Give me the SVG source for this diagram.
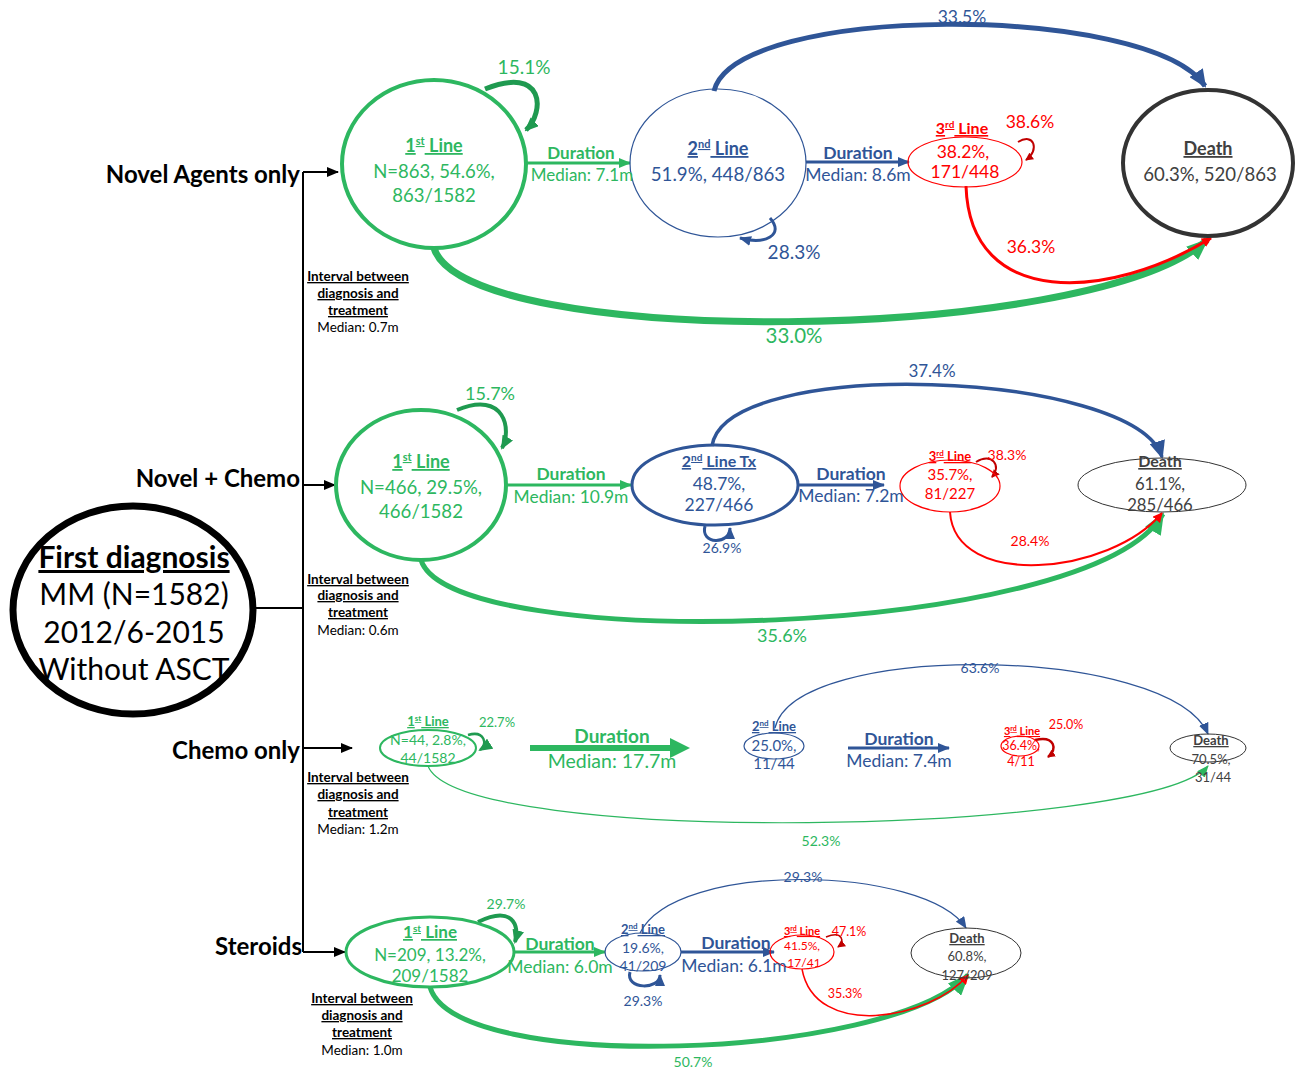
<svg xmlns="http://www.w3.org/2000/svg" width="1306" height="1071" viewBox="0 0 1306 1071">
<defs>
<style>
text{font-family:Lato,"Open Sans","Liberation Sans",sans-serif;text-anchor:middle}
.g{fill:#2db760}.b{fill:#2f5597}.r{fill:#ff0000}.k{fill:#000}.d{fill:#404040}
.bold{font-weight:bold}.u{text-decoration:underline}
.gs{stroke:#2db760;fill:none}.bs{stroke:#2f5597;fill:none}.rs{stroke:#ff0000;fill:none}.ks{stroke:#000;fill:none}
.lab{font-size:24px;font-weight:bold;text-anchor:end}
.iv{font-size:13.5px}
</style>
<marker id="ak" markerWidth="12" markerHeight="10" refX="11" refY="5" orient="auto" markerUnits="userSpaceOnUse"><path d="M0,0L12,5L0,10z" fill="#000"/></marker>
<marker id="ag" markerWidth="12" markerHeight="10" refX="11" refY="5" orient="auto" markerUnits="userSpaceOnUse"><path d="M0,0L12,5L0,10z" fill="#2db760"/></marker>
<marker id="agL" markerWidth="22" markerHeight="18" refX="20" refY="9" orient="auto" markerUnits="userSpaceOnUse"><path d="M0,0L22,9L0,18z" fill="#2db760"/></marker>
<marker id="ab" markerWidth="12" markerHeight="10" refX="11" refY="5" orient="auto" markerUnits="userSpaceOnUse"><path d="M0,0L12,5L0,10z" fill="#2f5597"/></marker>
<marker id="abL" markerWidth="18" markerHeight="16" refX="16" refY="8" orient="auto" markerUnits="userSpaceOnUse"><path d="M0,0L18,8L0,16z" fill="#2f5597"/></marker>
<marker id="ar" markerWidth="10" markerHeight="10" refX="9" refY="5" orient="auto" markerUnits="userSpaceOnUse"><path d="M0,0L10,5L0,10z" fill="#ff0000"/></marker>
<marker id="ard" markerWidth="8" markerHeight="8" refX="7" refY="4" orient="auto" markerUnits="userSpaceOnUse"><path d="M0,0L8,4L0,8z" fill="#c00000"/></marker>
<marker id="agd" markerWidth="14" markerHeight="12" refX="12" refY="6" orient="auto" markerUnits="userSpaceOnUse"><path d="M0,0L14,6L0,12z" fill="#1f9a50"/></marker>
</defs>

<g id="connectors">
<path class="ks" stroke-width="2" d="M253,608H303M303,172V952"/>
<path class="ks" stroke-width="2" d="M303,172H338" marker-end="url(#ak)"/>
<path class="ks" stroke-width="2" d="M303,485H335" marker-end="url(#ak)"/>
<path class="ks" stroke-width="2" d="M303,748H352" marker-end="url(#ak)"/>
<path class="ks" stroke-width="2" d="M303,952H345" marker-end="url(#ak)"/>

<!-- row 1 -->
<path class="gs" stroke-width="3" d="M526,163H630" marker-end="url(#ag)"/>
<path class="bs" stroke-width="3" d="M806,162H909" marker-end="url(#ab)"/>
<path class="bs" stroke-width="5" d="M714,91C735,3 1150,3 1205,86" marker-end="url(#abL)"/>
<path class="gs" stroke-width="7" d="M434,248C465,350 1090,345 1207,240" marker-end="url(#agL)"/>
<path class="rs" stroke-width="3" d="M966,186C970,310 1110,300 1211,238" marker-end="url(#ar)"/>
<path stroke="#1f9a50" fill="none" stroke-width="5" d="M485,89C545,65 545,112 526,130" marker-end="url(#agd)"/>
<path class="bs" stroke-width="3" d="M770,218C785,235 765,245 740,238" marker-end="url(#ab)"/>
<path stroke="#c00000" fill="none" stroke-width="2" d="M1018,142C1034,132 1040,150 1026,160" marker-end="url(#ard)"/>

<!-- row 2 -->
<path class="gs" stroke-width="3" d="M506,485H631" marker-end="url(#ag)"/>
<path class="bs" stroke-width="3" d="M798,485H884" marker-end="url(#ab)"/>
<path class="bs" stroke-width="3.5" d="M712,446C725,355 1135,370 1162,457" marker-end="url(#abL)"/>
<path class="gs" stroke-width="5" d="M421,560C450,655 1090,640 1163,514" marker-end="url(#agL)"/>
<path class="rs" stroke-width="2" d="M950,512C955,590 1110,575 1162,513" marker-end="url(#ar)"/>
<path stroke="#1f9a50" fill="none" stroke-width="4" d="M457,410C505,390 512,430 502,448" marker-end="url(#agd)"/>
<path class="bs" stroke-width="3" d="M705,526C700,545 730,545 730,528" marker-end="url(#ab)"/>
<path stroke="#c00000" fill="none" stroke-width="2" d="M976,462C992,452 1002,466 992,477" marker-end="url(#ard)"/>

<!-- row 3 -->
<path class="gs" stroke-width="6" d="M530,748H672"/>
<path d="M670,738L690,748L670,758z" fill="#2db760"/>
<path class="bs" stroke-width="3" d="M848,748H949" marker-end="url(#ab)"/>
<path class="bs" stroke-width="1.2" d="M775,728C795,640 1170,645 1208,734" marker-end="url(#ab)"/>
<path class="gs" stroke-width="1.2" d="M428,766C460,848 1150,835 1208,766" marker-end="url(#ag)"/>
<path stroke="#1f9a50" fill="none" stroke-width="2.5" d="M468,735C485,730 488,745 480,750" marker-end="url(#agd)"/>
<path stroke="#c00000" fill="none" stroke-width="2.5" d="M1035,740C1055,735 1058,750 1048,757" marker-end="url(#ard)"/>

<!-- row 4 -->
<path class="gs" stroke-width="3" d="M514,952H605" marker-end="url(#ag)"/>
<path class="bs" stroke-width="3" d="M681,952H774" marker-end="url(#ab)"/>
<path class="bs" stroke-width="1.2" d="M640,933C675,860 925,865 966,928" marker-end="url(#ab)"/>
<path class="gs" stroke-width="5" d="M430,987C455,1075 890,1060 968,975" marker-end="url(#agL)"/>
<path class="rs" stroke-width="1.5" d="M802,969C815,1040 930,1020 968,975" marker-end="url(#ar)"/>
<path stroke="#1f9a50" fill="none" stroke-width="4" d="M478,922C512,905 520,925 515,942" marker-end="url(#agd)"/>
<path class="bs" stroke-width="3" d="M630,972C625,990 660,990 660,975" marker-end="url(#ab)"/>
<path stroke="#c00000" fill="none" stroke-width="1.5" d="M826,937C843,930 845,942 838,947" marker-end="url(#ard)"/>
</g>

<g id="first-diagnosis">
<ellipse cx="133" cy="610" rx="120" ry="104" fill="#fff" stroke="#000" stroke-width="7"/>
<text x="134" y="568" font-size="30" class="k bold u">First diagnosis</text>
<text x="134" y="605" font-size="30" class="k">MM (N=1582)</text>
<text x="134" y="643" font-size="30" class="k">2012/6-2015</text>
<text x="134" y="680" font-size="30" class="k">Without ASCT</text>
</g>

<g id="group-labels">
<text x="300" y="183" class="lab k">Novel Agents only</text>
<text x="300" y="487" class="lab k">Novel + Chemo</text>
<text x="300" y="759" class="lab k">Chemo only</text>
<text x="302" y="955" class="lab k">Steroids</text>
</g>

<g id="intervals">
<text x="358" y="281" class="iv k bold u">Interval between</text>
<text x="358" y="298" class="iv k bold u">diagnosis and</text>
<text x="358" y="315" class="iv k bold u">treatment</text>
<text x="358" y="332" class="iv k">Median: 0.7m</text>
<text x="358" y="584" class="iv k bold u">Interval between</text>
<text x="358" y="600" class="iv k bold u">diagnosis and</text>
<text x="358" y="617" class="iv k bold u">treatment</text>
<text x="358" y="635" class="iv k">Median: 0.6m</text>
<text x="358" y="782" class="iv k bold u">Interval between</text>
<text x="358" y="799" class="iv k bold u">diagnosis and</text>
<text x="358" y="817" class="iv k bold u">treatment</text>
<text x="358" y="834" class="iv k">Median: 1.2m</text>
<text x="362" y="1003" class="iv k bold u">Interval between</text>
<text x="362" y="1020" class="iv k bold u">diagnosis and</text>
<text x="362" y="1037" class="iv k bold u">treatment</text>
<text x="362" y="1055" class="iv k">Median: 1.0m</text>
</g>

<!-- Row 1 -->
<g id="r1-first">
<ellipse cx="434" cy="164" rx="92" ry="84" fill="none" stroke="#2db760" stroke-width="4"/>
<text x="434" y="152" font-size="18" class="g bold u">1<tspan font-size="11" dy="-7">st</tspan><tspan dy="7"> Line</tspan></text>
<text x="434" y="178" font-size="18.5" class="g">N=863, 54.6%,</text>
<text x="434" y="202" font-size="18.5" class="g">863/1582</text>
</g>
<g id="r1-second">
<ellipse cx="718" cy="163" rx="88" ry="74" fill="none" stroke="#2f5597" stroke-width="1.2"/>
<text x="718" y="155" font-size="18" class="b bold u">2<tspan font-size="11" dy="-7">nd</tspan><tspan dy="7"> Line</tspan></text>
<text x="718" y="181" font-size="18.7" class="b">51.9%, 448/863</text>
</g>
<g id="r1-third">
<ellipse cx="965" cy="162" rx="57" ry="25" fill="none" stroke="#ff0000" stroke-width="1.2"/>
<text x="962" y="134" font-size="16" class="r bold u">3<tspan font-size="10" dy="-6">rd</tspan><tspan dy="6"> Line</tspan></text>
<text x="963" y="158" font-size="17.5" class="r">38.2%,</text>
<text x="965" y="178" font-size="17.5" class="r">171/448</text>
</g>
<g id="r1-death">
<ellipse cx="1208" cy="163" rx="85" ry="73" fill="none" stroke="#333" stroke-width="4"/>
<text x="1208" y="155" font-size="18" class="d bold u">Death</text>
<text x="1210" y="181" font-size="18.6" class="d">60.3%, 520/863</text>
</g>
<g id="r1-labels">
<text x="524" y="74" font-size="19" class="g">15.1%</text>
<text x="581" y="159" font-size="17" class="g bold">Duration</text>
<text x="582" y="181" font-size="17" class="g">Median: 7.1m</text>
<text x="794" y="259" font-size="19" class="b">28.3%</text>
<text x="858" y="159" font-size="17.5" class="b bold">Duration</text>
<text x="858" y="181" font-size="17.5" class="b">Median: 8.6m</text>
<text x="1030" y="128" font-size="17.5" class="r">38.6%</text>
<text x="962" y="23" font-size="17.5" class="b">33.5%</text>
<text x="1031" y="253" font-size="17.5" class="r">36.3%</text>
<text x="794" y="343" font-size="20.5" class="g">33.0%</text>
</g>

<!-- Row 2 -->
<g id="r2-first">
<ellipse cx="421" cy="485" rx="85" ry="75" fill="none" stroke="#2db760" stroke-width="4"/>
<text x="421" y="468" font-size="18" class="g bold u">1<tspan font-size="11" dy="-7">st</tspan><tspan dy="7"> Line</tspan></text>
<text x="421" y="494" font-size="18.6" class="g">N=466, 29.5%,</text>
<text x="421" y="518" font-size="18.6" class="g">466/1582</text>
</g>
<g id="r2-second">
<ellipse cx="715" cy="485" rx="83" ry="40" fill="none" stroke="#2f5597" stroke-width="3"/>
<text x="719" y="467" font-size="16" class="b bold u">2<tspan font-size="10" dy="-6">nd</tspan><tspan dy="6"> Line Tx</tspan></text>
<text x="719" y="490" font-size="17.5" class="b">48.7%,</text>
<text x="719" y="511" font-size="17.5" class="b">227/466</text>
</g>
<g id="r2-third">
<ellipse cx="950" cy="486" rx="50" ry="26" fill="none" stroke="#ff0000" stroke-width="1.2"/>
<text x="950" y="461" font-size="13" class="r bold u">3<tspan font-size="8" dy="-5">rd</tspan><tspan dy="5"> Line</tspan></text>
<text x="950" y="480" font-size="15" class="r">35.7%,</text>
<text x="950" y="499" font-size="15" class="r">81/227</text>
</g>
<g id="r2-death">
<ellipse cx="1162" cy="485" rx="84" ry="27" fill="none" stroke="#333" stroke-width="1"/>
<text x="1160" y="467" font-size="16" class="d bold u">Death</text>
<text x="1160" y="490" font-size="16.7" class="d">61.1%,</text>
<text x="1160" y="511" font-size="16.7" class="d">285/466</text>
</g>
<g id="r2-labels">
<text x="490" y="400" font-size="18" class="g">15.7%</text>
<text x="571" y="480" font-size="17.4" class="g bold">Duration</text>
<text x="571" y="503" font-size="17.4" class="g">Median: 10.9m</text>
<text x="722" y="553" font-size="14" class="b">26.9%</text>
<text x="851" y="480" font-size="17.5" class="b bold">Duration</text>
<text x="851" y="502" font-size="17.5" class="b">Median: 7.2m</text>
<text x="1007" y="460" font-size="14" class="r">38.3%</text>
<text x="932" y="377" font-size="17" class="b">37.4%</text>
<text x="1030" y="546" font-size="14" class="r">28.4%</text>
<text x="782" y="642" font-size="18" class="g">35.6%</text>
</g>

<!-- Row 3 -->
<g id="r3-first">
<ellipse cx="428" cy="748" rx="48" ry="18" fill="none" stroke="#2db760" stroke-width="2"/>
<text x="428" y="726" font-size="13" class="g bold u">1<tspan font-size="8" dy="-5">st</tspan><tspan dy="5"> Line</tspan></text>
<text x="428" y="745" font-size="14" class="g">N=44, 2.8%,</text>
<text x="428" y="763" font-size="14" class="g">44/1582</text>
</g>
<g id="r3-second">
<ellipse cx="774" cy="746" rx="30" ry="13" fill="none" stroke="#2f5597" stroke-width="1.2"/>
<text x="774" y="731" font-size="13" class="b bold u">2<tspan font-size="8" dy="-5">nd</tspan><tspan dy="5"> Line</tspan></text>
<text x="774" y="751" font-size="15" class="b">25.0%,</text>
<text x="774" y="769" font-size="15" class="b">11/44</text>
</g>
<g id="r3-third">
<ellipse cx="1020" cy="746" rx="19" ry="10" fill="none" stroke="#ff0000" stroke-width="1.2"/>
<text x="1022" y="735" font-size="11" class="r bold u">3<tspan font-size="7" dy="-4">rd</tspan><tspan dy="4"> Line</tspan></text>
<text x="1021" y="750" font-size="12.5" class="r">36.4%,</text>
<text x="1021" y="766" font-size="12.5" class="r">4/11</text>
</g>
<g id="r3-death">
<ellipse cx="1208" cy="748" rx="38" ry="14" fill="none" stroke="#333" stroke-width="1"/>
<text x="1211" y="745" font-size="13" class="d bold u">Death</text>
<text x="1211" y="764" font-size="13" class="d">70.5%,</text>
<text x="1213" y="782" font-size="13" class="d">31/44</text>
</g>
<g id="r3-labels">
<text x="497" y="727" font-size="13" class="g">22.7%</text>
<text x="612" y="743" font-size="19" class="g bold">Duration</text>
<text x="612" y="768" font-size="19.5" class="g">Median: 17.7m</text>
<text x="899" y="745" font-size="17.5" class="b bold">Duration</text>
<text x="899" y="767" font-size="17.5" class="b">Median: 7.4m</text>
<text x="1066" y="729" font-size="12.5" class="r">25.0%</text>
<text x="980" y="673" font-size="14" class="b">63.6%</text>
<text x="821" y="846" font-size="14" class="g">52.3%</text>
</g>

<!-- Row 4 -->
<g id="r4-first">
<ellipse cx="430" cy="952" rx="84" ry="35" fill="none" stroke="#2db760" stroke-width="3"/>
<text x="430" y="938" font-size="17" class="g bold u">1<tspan font-size="10" dy="-6">st</tspan><tspan dy="6"> Line</tspan></text>
<text x="430" y="961" font-size="17" class="g">N=209, 13.2%,</text>
<text x="430" y="982" font-size="17" class="g">209/1582</text>
</g>
<g id="r4-second">
<ellipse cx="643" cy="952" rx="38" ry="19" fill="none" stroke="#2f5597" stroke-width="1.2"/>
<text x="643" y="934" font-size="13" class="b bold u">2<tspan font-size="8" dy="-5">nd</tspan><tspan dy="5"> Line</tspan></text>
<text x="643" y="953" font-size="14" class="b">19.6%,</text>
<text x="643" y="971" font-size="14" class="b">41/209</text>
</g>
<g id="r4-third">
<ellipse cx="802" cy="952" rx="32" ry="17" fill="none" stroke="#ff0000" stroke-width="1.2"/>
<text x="802" y="935" font-size="11" class="r bold u">3<tspan font-size="7" dy="-4">rd</tspan><tspan dy="4"> Line</tspan></text>
<text x="802" y="950" font-size="12" class="r">41.5%,</text>
<text x="804" y="967" font-size="12" class="r">17/41</text>
</g>
<g id="r4-death">
<ellipse cx="966" cy="953" rx="55" ry="25" fill="none" stroke="#333" stroke-width="1"/>
<text x="967" y="943" font-size="13" class="d bold u">Death</text>
<text x="967" y="961" font-size="13" class="d">60.8%,</text>
<text x="967" y="980" font-size="13" class="d">127/209</text>
</g>
<g id="r4-labels">
<text x="506" y="909" font-size="14" class="g">29.7%</text>
<text x="560" y="950" font-size="17.5" class="g bold">Duration</text>
<text x="560" y="973" font-size="17.5" class="g">Median: 6.0m</text>
<text x="643" y="1006" font-size="14" class="b">29.3%</text>
<text x="736" y="949" font-size="17.5" class="b bold">Duration</text>
<text x="734" y="972" font-size="17.5" class="b">Median: 6.1m</text>
<text x="849" y="936" font-size="12.5" class="r">47.1%</text>
<text x="803" y="882" font-size="14" class="b">29.3%</text>
<text x="845" y="998" font-size="12.5" class="r">35.3%</text>
<text x="693" y="1067" font-size="14" class="g">50.7%</text>
</g>
</svg>
